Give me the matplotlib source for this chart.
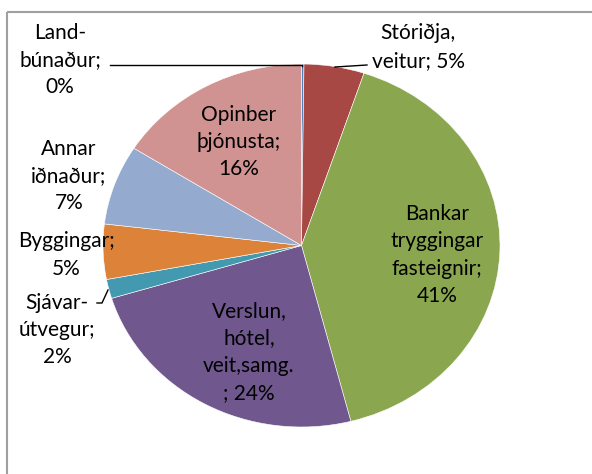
import matplotlib
matplotlib.use("Agg")
import matplotlib.pyplot as plt
from matplotlib.patches import Rectangle

# sector shares (%), clockwise from 12 o'clock
sectors = ["Land-\nbúnaður", "Stóriðja,\nveitur", "Bankar\ntryggingar\nfasteignir",
           "Verslun,\nhótel,\nveit,samg.\n", "Sjávar-\nútvegur", "Byggingar",
           "Annar\niðnaður", "Opinber\nþjónusta"]
shares = [0.2, 4.9, 40.9, 24.3, 1.7, 4.9, 7.1, 16.0]
colors = ["#4F81BD", "#A84845", "#8AA64F", "#70588F", "#4299B0", "#DC8239",
          "#95AACF", "#D09391"]

W, H = 592, 474
fig = plt.figure(figsize=(W / 100, H / 100), dpi=100)

# pie axes covers the (slightly squashed) pie bbox
left, right, top, bottom = 103, 500, 64, 427
pa = fig.add_axes([left / W, 1 - bottom / H, (right - left) / W, (bottom - top) / H])
pa.pie(shares, colors=colors, startangle=90, counterclock=False,
       wedgeprops=dict(edgecolor="white", linewidth=0.4))
pa.set_aspect("auto")
pa.set_xlim(-1, 1)
pa.set_ylim(-1, 1)

# overlay in pixel coords for frame, labels and leader lines (drawn on top)
ov = fig.add_axes([0, 0, 1, 1])
ov.set_xlim(0, W)
ov.set_ylim(H, 0)
ov.axis("off")
ov.add_patch(Rectangle((6.5, 11.5), W + 10, H + 10, fill=False,
                       edgecolor="#A0A0A0", linewidth=1.5))

labels = [f"{s};\n{round(v):.0f}%" for s, v in zip(sectors, shares)]
labels[1] = f"Stóriðja,\nveitur; {round(shares[1]):.0f}%"
labels[3] = f"Verslun,\nhótel,\nveit,samg.\n; {round(shares[3]):.0f}%"
labels[5] = f"Byggingar;\n{round(shares[5]):.0f}%"
pos = [(60, 60), (418, 47), (437, 255), (249, 352), (57, 330), (66, 255),
       (69, 176), (239, 142)]

for lab, (x, y) in zip(labels, pos):
    ov.text(x, y, lab, ha="center", va="center", fontsize=15,
            family="Lato", linespacing=1.45, color="black", zorder=5)

# leader lines
ov.plot([110, 302, 302], [64.5, 64.5, 66], color="black", lw=1, zorder=4)
ov.plot([335, 367], [67, 65], color="black", lw=1, zorder=4)
ov.plot([97, 102, 108], [303, 303, 290], color="black", lw=1, zorder=4)

fig.savefig("out.png", dpi=100)
